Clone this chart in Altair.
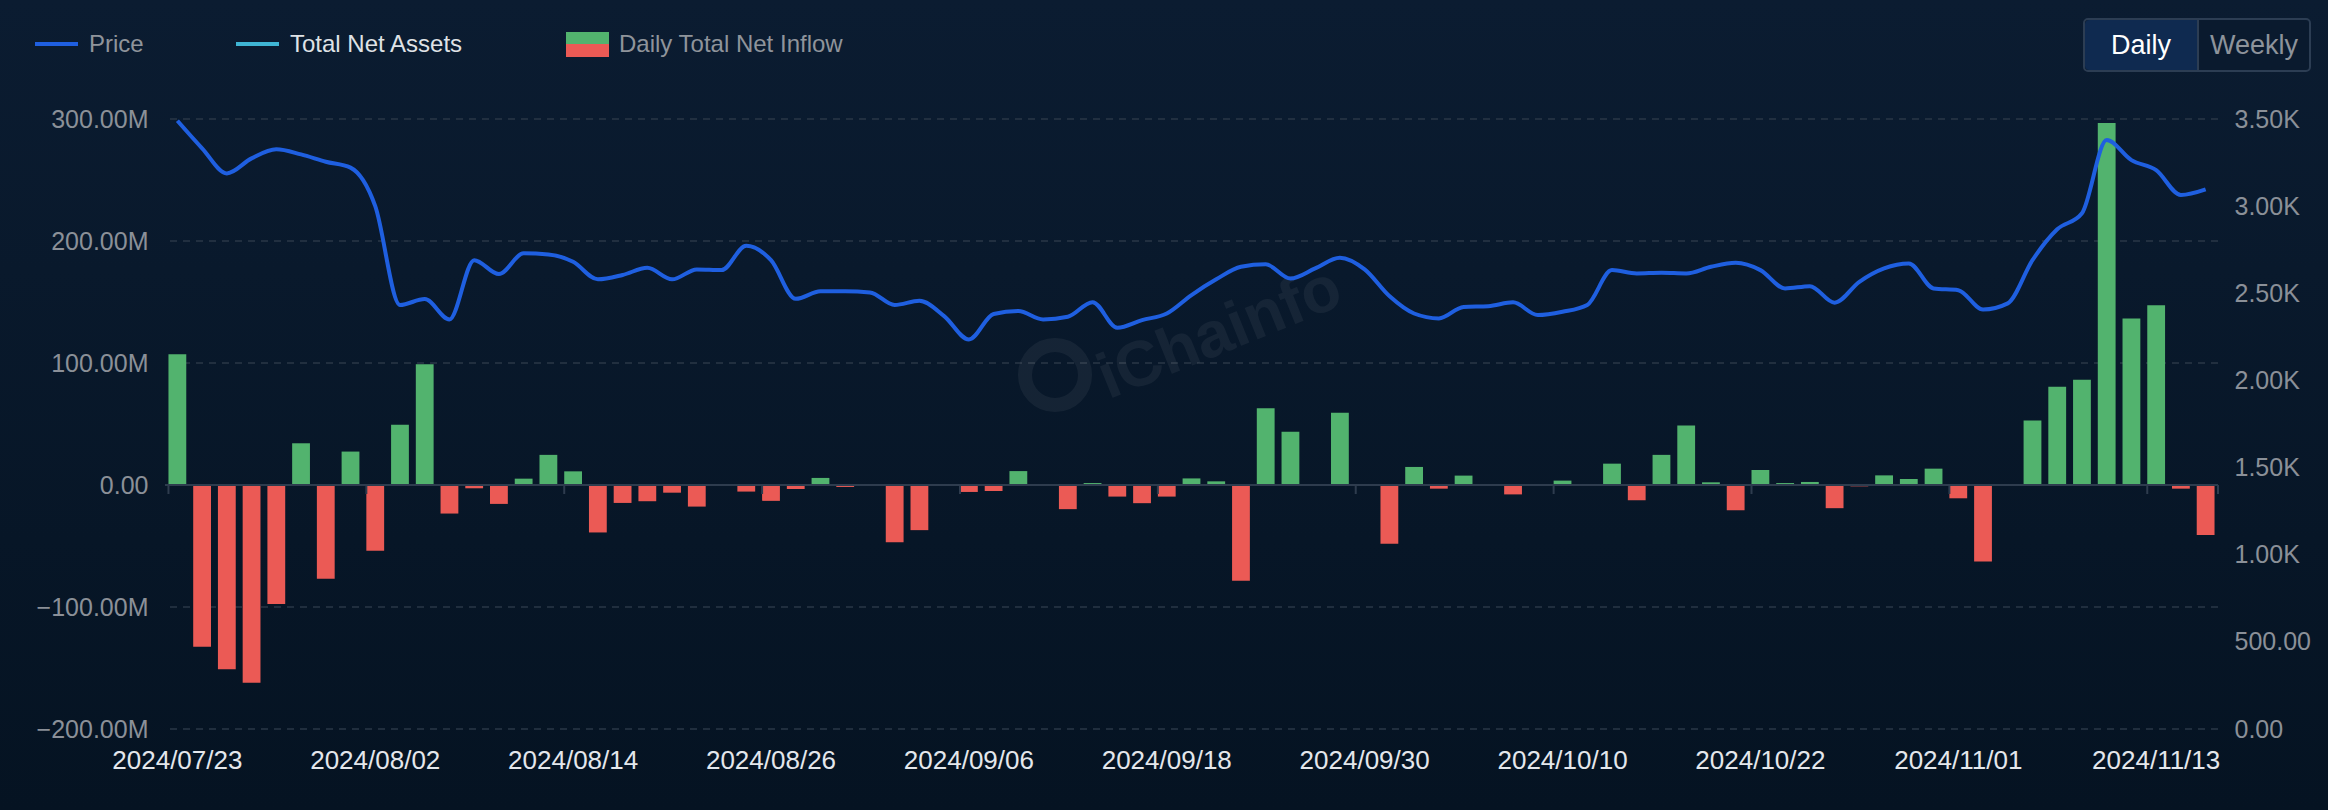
import altair as alt
import pandas as pd

# ---------------- data ----------------
dates = [
    "2024/07/23", "2024/07/24", "2024/07/25", "2024/07/26", "2024/07/29", "2024/07/30", "2024/07/31",
    "2024/08/01", "2024/08/02", "2024/08/05", "2024/08/06", "2024/08/07", "2024/08/08", "2024/08/09",
    "2024/08/12", "2024/08/13", "2024/08/14", "2024/08/15", "2024/08/16", "2024/08/19", "2024/08/20",
    "2024/08/21", "2024/08/22", "2024/08/23", "2024/08/26", "2024/08/27", "2024/08/28", "2024/08/29",
    "2024/08/30", "2024/09/03", "2024/09/04", "2024/09/05", "2024/09/06", "2024/09/09", "2024/09/10",
    "2024/09/11", "2024/09/12", "2024/09/13", "2024/09/16", "2024/09/17", "2024/09/18", "2024/09/19",
    "2024/09/20", "2024/09/23", "2024/09/24", "2024/09/25", "2024/09/26", "2024/09/27", "2024/09/30",
    "2024/10/01", "2024/10/02", "2024/10/03", "2024/10/04", "2024/10/07", "2024/10/08", "2024/10/09",
    "2024/10/10", "2024/10/11", "2024/10/14", "2024/10/15", "2024/10/16", "2024/10/17", "2024/10/18",
    "2024/10/21", "2024/10/22", "2024/10/23", "2024/10/24", "2024/10/25", "2024/10/28", "2024/10/29",
    "2024/10/30", "2024/10/31", "2024/11/01", "2024/11/04", "2024/11/05", "2024/11/06", "2024/11/07",
    "2024/11/08", "2024/11/11", "2024/11/12", "2024/11/13", "2024/11/14", "2024/11/15",
]

# Daily total net inflow, in millions of USD
net_inflow = [
    107.1, -132.6, -151.1, -162.0, -97.6, 34.2, -76.9, 27.4, -53.8, 49.3,
    98.9, -23.4, -2.7, -15.5, 5.2, 24.7, 11.2, -38.9, -14.7, -13.3,
    -6.3, -17.7, -0.8, -5.4, -13.0, -3.3, 5.8, -1.6, 0.0, -47.0,
    -37.0, 0.0, -5.7, -4.9, 11.4, -0.5, -19.8, 1.6, -9.5, -14.9,
    -9.5, 5.4, 3.0, -78.5, 63.0, 43.6, -0.5, 59.2, -0.8, -48.1,
    14.8, -3.0, 7.7, 0.0, -7.7, 0.0, 3.6, 0.3, 17.5, -12.5,
    24.7, 48.8, 2.2, -20.7, 12.3, 1.6, 2.5, -19.0, -1.1, 7.9,
    4.9, 13.4, -10.9, -62.8, 0.0, 52.9, 80.5, 86.3, 296.7, 136.4,
    147.4, -3.0, -41.0,
]

# ETH price, USD
price = [
    3490, 3332, 3188, 3274, 3326, 3297, 3255, 3221, 3000, 2433,
    2467, 2350, 2690, 2610, 2729, 2723, 2681, 2580, 2605, 2646,
    2580, 2637, 2633, 2773, 2690, 2468, 2511, 2511, 2505, 2433,
    2457, 2369, 2235, 2381, 2398, 2350, 2365, 2449, 2302, 2346,
    2384, 2490, 2580, 2652, 2666, 2585, 2643, 2704, 2637, 2484,
    2384, 2356, 2422, 2426, 2448, 2375, 2394, 2433, 2633, 2614,
    2618, 2614, 2652, 2675, 2633, 2528, 2541, 2446, 2566, 2643,
    2671, 2528, 2518, 2407, 2442, 2690, 2867, 2959, 3379, 3264,
    3207, 3064, 3096,
]

label_dates = ["2024/07/23", "2024/08/02", "2024/08/14", "2024/08/26", "2024/09/06", "2024/09/18",
               "2024/09/30", "2024/10/10", "2024/10/22", "2024/11/01", "2024/11/13"]
left_ticks = [-200, -100, 0, 100, 200, 300]
grid_ticks = [-200, -100, 100, 200, 300]
right_ticks = [0, 500, 1000, 1500, 2000, 2500, 3000, 3500]

legend_items = ["Price", "Total Net Assets", "Daily Total Net Inflow"]
buttons = ["Daily", "Weekly"]

df = pd.DataFrame({"date": dates, "flow": net_inflow, "price": price})

# ---------------- layout ----------------
W, H = 2053, 610
PL, PT, PR, PB = 165, 119, 110, 81
ZERO_Y = 366
FONT = "Liberation Sans"
GREEN = "#52b36e"
RED = "#eb5a55"
BLUE = "#1f5fe0"
TEAL = "#3fb5d4"
GRID = "#2a3747"
AXIS = "#2e3c4e"

one = pd.DataFrame({"a": [0]})

xscale = alt.Scale(paddingInner=0.28, paddingOuter=0.14)

bg = alt.Chart(one).mark_rect(
    color=alt.Gradient(
        gradient="linear", x1=0, x2=0, y1=0, y2=1,
        stops=[alt.GradientStop(color="#0b1c31", offset=0),
               alt.GradientStop(color="#051322", offset=1)],
    )
).encode(x=alt.value(-PL), x2=alt.value(W + PR), y=alt.value(-PT), y2=alt.value(H + PB))

grid = alt.Chart(pd.DataFrame({"v": grid_ticks})).mark_rule(
    color=GRID, strokeDash=[7, 6], strokeWidth=1.5
).encode(y=alt.Y("v:Q", scale=alt.Scale(domain=[-200, 300]), axis=None))

bars = alt.Chart(df).mark_bar().encode(
    x=alt.X("date:O", sort=dates, scale=xscale, axis=None),
    y=alt.Y("flow:Q", scale=alt.Scale(domain=[-200, 300], nice=False),
            axis=alt.Axis(values=left_ticks, grid=False, domain=False, ticks=False,
                          labelExpr="datum.value == 0 ? '0.00' : format(datum.value, '.2f') + 'M'",
                          labelColor="#8b9098", labelFontSize=25, labelFont=FONT, labelPadding=17,
                          title=None, zindex=1)),
    color=alt.condition(alt.datum.flow >= 0, alt.value(GREEN), alt.value(RED)),
)

zero_line = alt.Chart(one).mark_rule(color=AXIS, strokeWidth=2).encode(
    x=alt.value(0), x2=alt.value(W), y=alt.value(ZERO_Y))
zero_ticks = alt.Chart(pd.DataFrame({"date": label_dates})).mark_rule(
    color=AXIS, strokeWidth=2
).encode(
    x=alt.X("date:O", sort=dates, scale=xscale, bandPosition=0, axis=None),
    y=alt.value(ZERO_Y), y2=alt.value(ZERO_Y + 9),
)
end_tick = alt.Chart(one).mark_rule(color=AXIS, strokeWidth=2).encode(
    x=alt.value(W), y=alt.value(ZERO_Y), y2=alt.value(ZERO_Y + 9))

line = alt.Chart(df).mark_line(color=BLUE, strokeWidth=4, interpolate="monotone").encode(
    x=alt.X("date:O", sort=dates, scale=xscale,
            axis=alt.Axis(orient="bottom", values=label_dates, domain=False, ticks=False,
                          labelPadding=18, labelColor="#e4e7ec", labelFontSize=26, labelFont=FONT,
                          labelAngle=0, labelOverlap=False, title=None, grid=False, zindex=1)),
    y=alt.Y("price:Q", scale=alt.Scale(domain=[0, 3500], nice=False),
            axis=alt.Axis(orient="right", values=right_ticks, grid=False, domain=False, ticks=False,
                          labelExpr="datum.value >= 1000 ? format(datum.value / 1000, '.2f') + 'K' : format(datum.value, '.2f')",
                          labelColor="#8b9098", labelFontSize=25, labelFont=FONT, labelPadding=16,
                          title=None, zindex=1)),
)

# watermark
wm_text = alt.Chart(pd.DataFrame({"t": ["iChainfo"]})).mark_text(
    font=FONT, fontSize=64, fontWeight="bold", angle=338, color="#ffffff", opacity=0.05,
    align="center", baseline="middle"
).encode(text="t:N", x=alt.value(1055), y=alt.value(215))
wm_logo = alt.Chart(one).mark_point(
    shape="circle", size=3600, filled=False, strokeWidth=14, color="#ffffff", opacity=0.05
).encode(x=alt.value(890), y=alt.value(256))

# legend
leg_x = [-76, 125, 454]
leg_c = ["#8f949b", "#dfe2e6", "#8f949b"]
leg_layers = []
for i, item in enumerate(legend_items):
    leg_layers.append(
        alt.Chart(pd.DataFrame({"t": [item]})).mark_text(
            font=FONT, fontSize=24, align="left", baseline="middle", color=leg_c[i]
        ).encode(text="t:N", x=alt.value(leg_x[i]), y=alt.value(-74))
    )
leg_price = alt.Chart(one).mark_rule(color=BLUE, strokeWidth=4).encode(
    x=alt.value(-130), x2=alt.value(-87), y=alt.value(-75))
leg_tna = alt.Chart(one).mark_rule(color=TEAL, strokeWidth=4).encode(
    x=alt.value(71), x2=alt.value(114), y=alt.value(-75))
leg_g = alt.Chart(one).mark_rect(color=GREEN).encode(
    x=alt.value(401), x2=alt.value(444), y=alt.value(-87), y2=alt.value(-75))
leg_r = alt.Chart(one).mark_rect(color=RED).encode(
    x=alt.value(401), x2=alt.value(444), y=alt.value(-75), y2=alt.value(-62))

# Daily / Weekly buttons
btn_box = alt.Chart(one).mark_rect(
    fill="#0a1a2e", stroke="#2c3d53", strokeWidth=2, cornerRadius=4
).encode(x=alt.value(1919), x2=alt.value(2145), y=alt.value(-100), y2=alt.value(-48))
btn_daily = alt.Chart(one).mark_rect(
    fill="#0f2a50", cornerRadiusTopLeft=4, cornerRadiusBottomLeft=4
).encode(x=alt.value(1920), x2=alt.value(2033), y=alt.value(-99), y2=alt.value(-49))
btn_div = alt.Chart(one).mark_rule(color="#2c3d53", strokeWidth=2).encode(
    x=alt.value(2033), y=alt.value(-99), y2=alt.value(-49))
btn_t1 = alt.Chart(pd.DataFrame({"t": [buttons[0]]})).mark_text(
    font=FONT, fontSize=27, align="center", baseline="middle", color="#ffffff"
).encode(text="t:N", x=alt.value(1976), y=alt.value(-73))
btn_t2 = alt.Chart(pd.DataFrame({"t": [buttons[1]]})).mark_text(
    font=FONT, fontSize=27, align="center", baseline="middle", color="#8d939b"
).encode(text="t:N", x=alt.value(2089), y=alt.value(-73))

chart = alt.layer(
    bg, grid, wm_logo, wm_text, bars, zero_line, zero_ticks, end_tick, line,
    leg_price, leg_tna, leg_g, leg_r, *leg_layers,
    btn_box, btn_daily, btn_div, btn_t1, btn_t2,
).resolve_scale(y="independent").resolve_axis(x="independent", y="independent").properties(
    width=W, height=H,
    autosize=alt.AutoSizeParams(type="none"),
    padding={"left": PL, "top": PT, "right": PR, "bottom": PB},
    background="#08182a",
).configure_view(stroke=None)

chart.save("out.html", embed_options={"renderer": "svg", "actions": False})
